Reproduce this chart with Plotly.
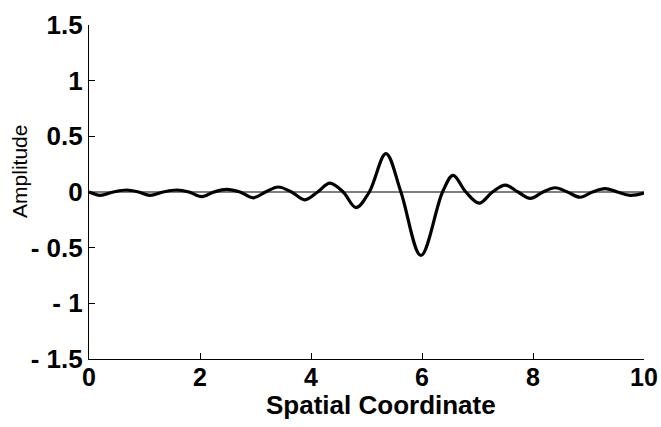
import plotly.graph_objects as go

# Curve samples (extrema and zero crossings)
x_vals = [0.0, 0.2, 0.44, 0.68, 0.89, 1.10, 1.34, 1.58, 1.80, 2.03, 2.25, 2.48, 2.72,
          2.96, 3.18, 3.41, 3.65, 3.89, 4.12, 4.34, 4.58, 4.81, 5.05, 5.35, 5.62,
          5.98, 6.37, 6.56, 6.79, 7.03, 7.27, 7.50, 7.73, 7.95, 8.18, 8.40, 8.62,
          8.85, 9.07, 9.30, 9.52, 9.75, 10.0]
y_vals = [0.0, -0.03, 0.0, 0.018, 0.0, -0.03, 0.0, 0.018, 0.0, -0.042, 0.0, 0.024, 0.0,
          -0.052, 0.0, 0.045, 0.0, -0.07, 0.0, 0.08, 0.0, -0.14, 0.0, 0.345, 0.0,
          -0.57, 0.0, 0.15, 0.0, -0.10, 0.0, 0.062, 0.0, -0.058, 0.0, 0.038, 0.0,
          -0.047, 0.0, 0.03, 0.0, -0.03, -0.01]

zero_x = [0, 10]
zero_y = [0, 0]

x_ticks = [0, 2, 4, 6, 8, 10]
x_ticktext = ["0", "2", "4", "6", "8", "10"]
y_ticks = [-1.5, -1, -0.5, 0, 0.5, 1, 1.5]
y_ticktext = ["- 1.5", "- 1", "- 0.5", "0", "0.5", "1", "1.5"]

x_title = "Spatial Coordinate"
y_title = "Amplitude"

FONT = "Liberation Sans, Arial, sans-serif"

fig = go.Figure()
fig.add_trace(go.Scatter(x=zero_x, y=zero_y, mode="lines",
                         line=dict(color="black", width=1.2), hoverinfo="skip"))
fig.add_trace(go.Scatter(x=x_vals, y=y_vals, mode="lines",
                         line=dict(color="black", width=3.2, shape="spline", smoothing=1.0)))

fig.update_layout(
    width=661, height=427,
    margin=dict(l=89, r=17, t=25, b=68),
    paper_bgcolor="white", plot_bgcolor="white",
    showlegend=False,
    font=dict(family=FONT, color="black"),
    annotations=[
        dict(text=x_title, xref="paper", yref="paper", x=0.526, y=0,
             xanchor="center", yanchor="middle", yshift=-46, showarrow=False,
             font=dict(family=FONT, size=26, color="black", weight="bold")),
        dict(text=y_title, xref="paper", yref="paper", x=0, y=0.56,
             xanchor="center", yanchor="middle", xshift=-69, textangle=-90,
             showarrow=False,
             font=dict(family=FONT, size=21, color="black")),
    ],
)
fig.update_xaxes(
    range=[0, 10], tickvals=x_ticks, ticktext=x_ticktext,
    ticks="inside", ticklen=6, tickwidth=1, tickcolor="black",
    showline=True, linecolor="black", linewidth=1.2, mirror=False,
    showgrid=False, zeroline=False, ticklabeloverflow="allow",
    ticklabelstandoff=-4,
    tickfont=dict(family=FONT, size=25, color="black", weight="bold"),
    automargin=False,
)
fig.update_yaxes(
    range=[-1.5, 1.5], tickvals=y_ticks, ticktext=y_ticktext,
    ticks="inside", ticklen=6, tickwidth=1, tickcolor="black",
    showline=True, linecolor="black", linewidth=1.2, mirror=False,
    showgrid=False, zeroline=False,
    tickfont=dict(family=FONT, size=26, color="black", weight="bold"),
    automargin=False,
)

fig.write_html("out.html", config={"displayModeBar": False},
               post_script="document.body.style.margin='0';document.body.style.overflow='hidden';")
